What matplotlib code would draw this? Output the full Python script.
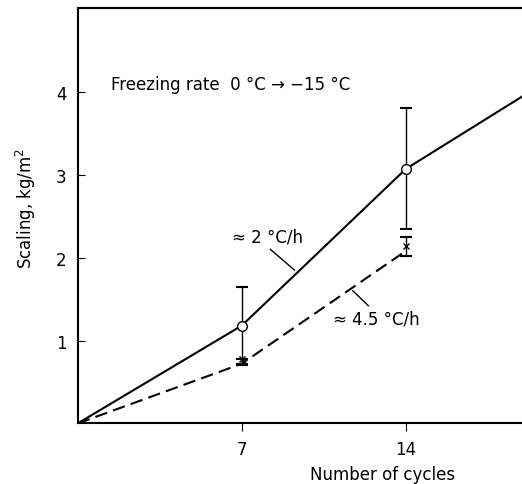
import matplotlib.pyplot as plt

plt.rcParams['font.family'] = ['DejaVu Sans Condensed', 'Liberation Sans Narrow', 'DejaVu Sans']

# solid curve (~2 °C/h)
cycles_slow = [0, 7, 14, 19]
scaling_slow = [0, 1.18, 3.07, 3.95]
err_x_slow = [7, 14]
err_y_slow = [1.18, 3.07]
err_slow = [0.46, 0.73]

# dashed curve (~4.5 °C/h)
cycles_fast = [0, 7, 14]
scaling_fast = [0, 0.72, 2.08]
mark_y_fast = [0.78, 2.14]
err_lo_fast = [0.08, 0.12]
err_hi_fast = [0.0, 0.11]

xticks = [7, 14]
yticks = [1, 2, 3, 4]

fig = plt.figure(figsize=(5.22, 4.85), dpi=100)
ax = fig.add_axes([0.149, 0.125, 0.851, 0.856])

ax.plot(cycles_slow, scaling_slow, color='black', lw=1.5)
ax.errorbar(err_x_slow, err_y_slow, yerr=err_slow, fmt='o', color='black',
            mfc='white', mec='black', ms=7, elinewidth=1.0, capsize=4, capthick=1.5, zorder=3)

ax.plot(cycles_fast, scaling_fast, color='black', lw=1.5, dashes=(6, 3))
ax.errorbar(err_x_slow, mark_y_fast, yerr=[err_lo_fast, err_hi_fast], fmt='x', color='black',
            ms=5, elinewidth=1.0, capsize=4, capthick=1.5, zorder=3)

ax.text(1.4, 4.1, 'Freezing rate  0 °C → −15 °C', fontsize=12, va='center')
ax.text(6.6, 2.26, '≈ 2 °C/h', fontsize=12, va='center')
ax.plot([8.22, 9.25], [2.10, 1.85], color='black', lw=1)
ax.text(10.9, 1.26, '≈ 4.5 °C/h', fontsize=12, va='center')
ax.plot([11.74, 12.40], [1.60, 1.42], color='black', lw=1)

ax.set_xlim(0, 18.96)
ax.set_ylim(0, 5.01)
ax.set_xticks(xticks)
ax.set_yticks(yticks)
ax.tick_params(axis='y', direction='in', length=5, labelsize=12, pad=8)
ax.tick_params(axis='x', direction='out', length=6, labelsize=12, pad=6)
ax.spines['right'].set_visible(False)
for s in ['left', 'bottom', 'top']:
    ax.spines[s].set_linewidth(1.5)

ax.set_ylabel('Scaling, kg/m$^2$', fontsize=12)
ax.yaxis.set_label_coords(-0.09, 0.52)
ax.set_xlabel('Number of cycles', fontsize=12)
ax.xaxis.set_label_coords(0.685, -0.1)

fig.savefig('out.png', dpi=100)
